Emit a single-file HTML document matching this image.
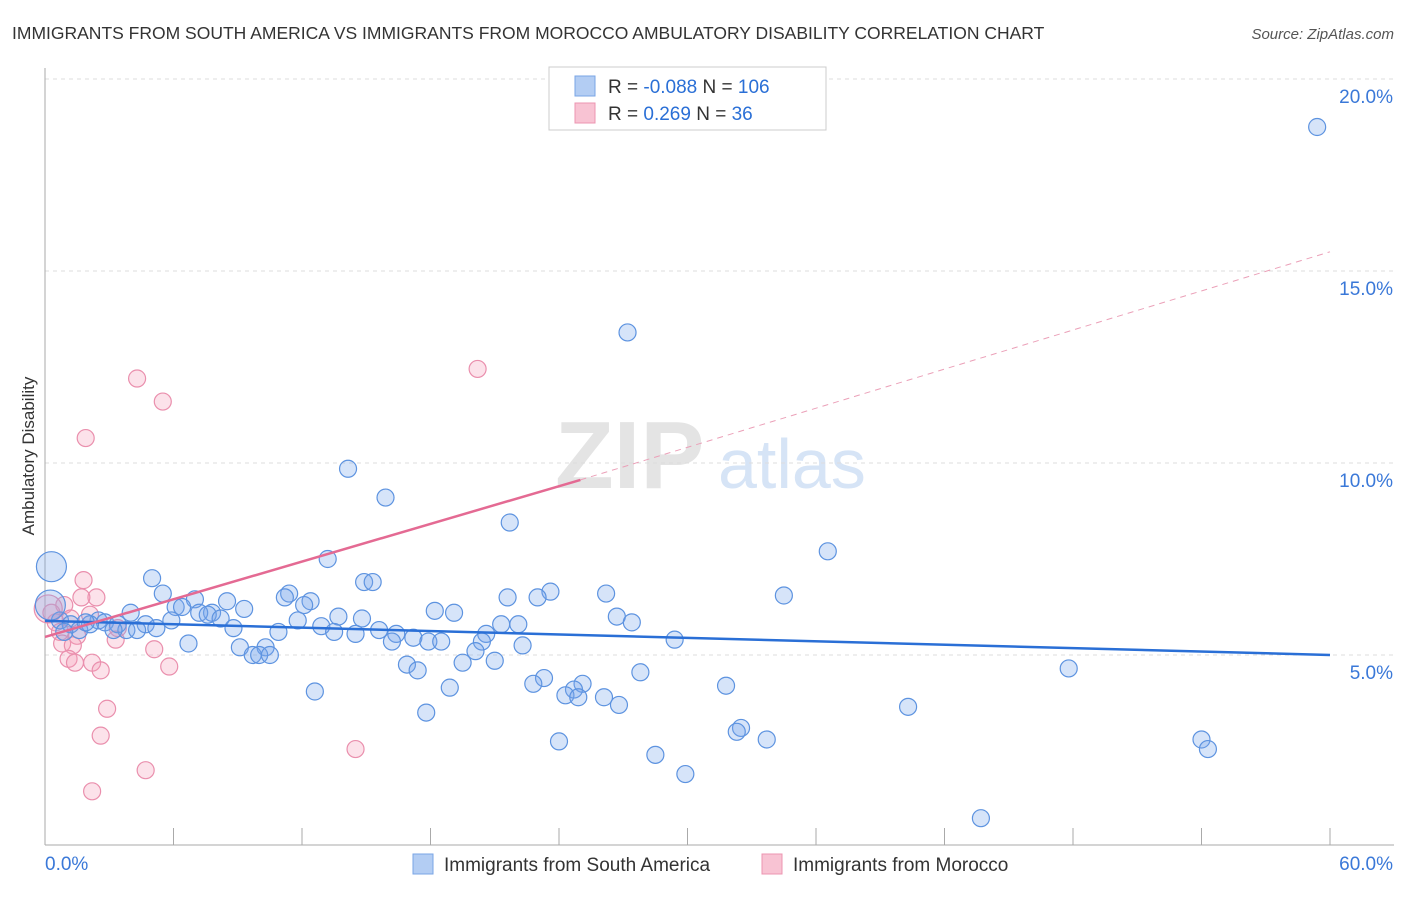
<!DOCTYPE html>
<html><head><meta charset="utf-8"><style>
body{margin:0;background:#fff;font-family:"Liberation Sans",sans-serif}
svg text{font-family:"Liberation Sans",sans-serif}
</style></head><body>
<svg id="chart" width="1406" height="892" viewBox="0 0 1406 892">
<text x="12" y="39" font-size="17.5" fill="#333">IMMIGRANTS FROM SOUTH AMERICA VS IMMIGRANTS FROM MOROCCO AMBULATORY DISABILITY CORRELATION CHART</text>
<text x="1394" y="39" font-size="15" fill="#555" text-anchor="end" font-style="italic">Source: ZipAtlas.com</text>
<g><text x="555" y="488" font-size="96" fill="#e4e4e4" font-family="Liberation Serif" font-weight="bold">ZIP</text><text x="718" y="488" font-size="70" fill="#d6e4f6">atlas</text></g>
<text transform="translate(34,456) rotate(-90)" font-size="17" fill="#333" text-anchor="middle">Ambulatory Disability</text>
<g id="grid"></g><g id="axes"></g><g id="marks"></g>
<g>
<rect x="549" y="67" width="277" height="63" fill="#fff" stroke="#ccc"/>
<rect x="575" y="76" width="20" height="20" fill="#b3cdf3" stroke="#7aa5e6"/>
<rect x="575" y="103" width="20" height="20" fill="#f8c3d3" stroke="#ec94b0"/>
<text x="608" y="93" font-size="19" fill="#333">R = <tspan fill="#2a6fd6">-0.088</tspan>   N = <tspan fill="#2a6fd6">106</tspan></text>
<text x="608" y="120" font-size="19" fill="#333">R =   <tspan fill="#2a6fd6">0.269</tspan>   N =   <tspan fill="#2a6fd6">36</tspan></text>
</g>
<g>
<rect x="413" y="854" width="20" height="20" fill="#b3cdf3" stroke="#7aa5e6"/>
<text x="444" y="871" font-size="19" fill="#333">Immigrants from South America</text>
<rect x="762" y="854" width="20" height="20" fill="#f8c3d3" stroke="#ec94b0"/>
<text x="793" y="871" font-size="19" fill="#333">Immigrants from Morocco</text>
</g>
</svg>
<script>
const yTicks=[5,10,15,20];
const yTickLabels=["5.0%","10.0%","15.0%","20.0%"];
const xTickCount=10;
const blueX=[59.4,27.2,14.15,15.9,21.7,36.55,13.2,5.0,14.9,15.3,23.6,26.2,34.5,5.5,11.4,11.2,21.6,23.0,7.0,8.5,12.4,12.1,6.1,6.4,9.3,18.2,19.1,4.0,7.8,7.2,7.6,13.7,14.8,26.7,27.4,11.8,21.3,22.1,8.2,5.9,4.7,5.2,2.5,2.8,3.4,3.8,4.3,3.2,8.8,12.9,13.5,14.5,15.6,16.4,17.2,10.9,20.6,16.2,17.9,18.5,20.4,29.4,6.7,9.1,10.3,22.3,20.1,9.7,10.0,10.5,21.0,19.5,16.9,17.4,27.8,47.8,23.3,25.1,22.8,31.8,12.6,18.9,24.7,24.3,24.9,26.1,26.8,40.3,17.8,32.5,32.3,33.7,24.0,54.0,54.3,28.5,29.9,43.7,0.7,1.2,1.6,2.1,0.9,1.9];
const blueY=[18.75,13.4,9.85,9.1,8.45,7.7,7.5,7.0,6.9,6.9,6.65,6.6,6.55,6.6,6.6,6.5,6.5,6.5,6.45,6.4,6.4,6.3,6.25,6.25,6.2,6.15,6.1,6.1,6.1,6.1,6.05,6.0,5.95,6.0,5.85,5.9,5.8,5.8,5.95,5.9,5.8,5.7,5.9,5.85,5.8,5.65,5.65,5.65,5.7,5.75,5.6,5.55,5.65,5.55,5.45,5.6,5.55,5.35,5.35,5.35,5.35,5.4,5.3,5.2,5.2,5.25,5.1,5.0,5.0,5.0,4.85,4.8,4.75,4.6,4.55,4.65,4.4,4.25,4.25,4.2,4.05,4.15,4.1,3.95,3.9,3.9,3.7,3.65,3.5,3.1,3.0,2.8,2.75,2.8,2.55,2.4,1.9,0.75,5.9,5.8,5.65,5.8,5.6,5.85];
const blueBigX=[0.3,0.25];
const blueBigY=[7.3,6.3];
const pinkX=[20.2,4.3,5.5,1.9,1.8,2.4,1.7,0.9,2.1,0.3,3.4,0.5,1.2,0.7,1.5,0.8,3.3,1.3,5.1,1.1,1.4,2.2,2.6,5.8,2.9,2.6,14.5,4.7,2.2];
const pinkY=[12.45,12.2,11.6,10.65,6.95,6.5,6.5,6.3,6.05,6.1,5.7,5.85,5.95,5.6,5.5,5.3,5.4,5.25,5.15,4.9,4.8,4.8,4.6,4.7,3.6,2.9,2.55,2.0,1.45];
const pinkBigX=[0.15];
const pinkBigY=[6.2];
const blueTrend=[[0,5.89],[60,5.0]];
const pinkTrendSolid=[[0,5.47],[25,9.56]];
const pinkTrendDash=[[25,9.56],[60,15.5]];
const ns="http://www.w3.org/2000/svg";
const sx=v=>45+v*1285/60, sy=v=>847-v*38.4;
function mk(t,a,p){const e=document.createElementNS(ns,t);for(const k in a)e.setAttribute(k,a[k]);p.appendChild(e);return e;}
const grid=document.getElementById('grid'),axes=document.getElementById('axes'),marks=document.getElementById('marks');
yTicks.forEach((v,i)=>{
 const l=mk('line',{x1:45,x2:1394,y1:sy(v),y2:sy(v),stroke:'#ddd','stroke-dasharray':'4,4'},grid);
 
 
 const t=mk('text',{x:1393,y:sy(v)+24,'font-size':19,fill:'#3a78d8','text-anchor':'end'},axes);
 t.textContent=yTickLabels[i];
 
 
});
const gl=mk('line',{x1:45,x2:1394,y1:79,y2:79,stroke:'#ddd','stroke-dasharray':'4,4'},grid);


const ya=mk('line',{x1:45,x2:45,y1:68,y2:845,stroke:'#aaa'},axes);


const xa=mk('line',{x1:45,x2:1394,y1:845,y2:845,stroke:'#aaa'},axes);


for(let i=0;i<=xTickCount;i++){const x=sx(i*60/xTickCount);
 const t=mk('line',{x1:x,x2:x,y1:828,y2:845,stroke:'#aaa'},axes);
 
 }
[["0.0%",45,'start'],["60.0%",1393,'end']].forEach(a=>{const t=mk('text',{x:a[1],y:870,'font-size':19,fill:'#3a78d8','text-anchor':a[2]},axes);t.textContent=a[0];
 
 });
function dots(X,Y,r,fill,stroke,name){X.forEach((x,i)=>{const c=mk('circle',{cx:sx(x),cy:sy(Y[i]),r:r,fill:fill,stroke:stroke,'stroke-width':1.2},marks);
 
 });}
dots(pinkX,pinkY,8.5,'rgba(244,160,186,0.3)','#ea8fad','morocco-point');
dots(pinkBigX,pinkBigY,14,'rgba(244,160,186,0.3)','#ea8fad','morocco-point');
dots(blueX,blueY,8.5,'rgba(120,165,235,0.3)','#5d93e0','south-america-point');
dots(blueBigX,blueBigY,15,'rgba(120,165,235,0.3)','#5d93e0','south-america-point');
function ln(p,st,w,dash,name){const l=mk('line',{x1:sx(p[0][0]),y1:sy(p[0][1]),x2:sx(p[1][0]),y2:sy(p[1][1]),stroke:st,'stroke-width':w},marks);
 if(dash)l.setAttribute('stroke-dasharray',dash);
 
 }
ln(blueTrend,'#2a6fd6',2.5,null,'south-america-trendline');
ln(pinkTrendSolid,'#e46a93',2.5,null,'morocco-trendline');
ln(pinkTrendDash,'#eba0b8',1,'6,5','morocco-trendline-extension');
</script>
</body></html>
